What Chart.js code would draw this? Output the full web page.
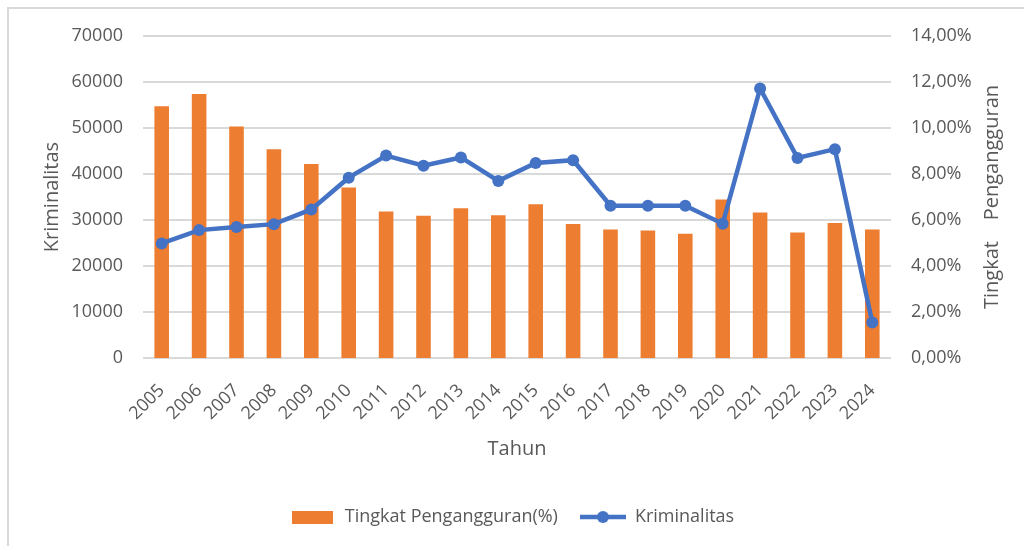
<!DOCTYPE html>
<html>
<head>
<meta charset="utf-8">
<script src="https://cdn.jsdelivr.net/npm/chart.js@4.4.1/dist/chart.umd.min.js"></script>
<style>
  html, body { margin: 0; padding: 0; background: #fff; }
  canvas { display: block; }
</style>
</head>
<body>
<canvas id="chart" width="1024" height="546"></canvas>
<script>
// Data
const years = ['2005', '2006', '2007', '2008', '2009', '2010', '2011', '2012', '2013', '2014',
               '2015', '2016', '2017', '2018', '2019', '2020', '2021', '2022', '2023', '2024'];
// unemployment rate (%), bars, right axis
const pengangguran = [10.95, 11.48, 10.07, 9.08, 8.44, 7.41, 6.37, 6.18, 6.51, 6.21,
                      6.69, 5.83, 5.59, 5.54, 5.40, 6.89, 6.33, 5.46, 5.87, 5.59];
// crime count, line, left axis
const kriminalitas = [24900, 27800, 28500, 29100, 32300, 39200, 44000, 41800, 43600, 38500,
                      42400, 43000, 33100, 33100, 33100, 29200, 58600, 43500, 45400, 7700];

const ORANGE = '#ED7D31';
const BLUE = '#4472C4';
const TEXT = '#595959';
const GRID = '#D9D9D9';
const FONT = "'Open Sans', sans-serif";
const RIGHT_TITLE = 'Tingkat    Pengangguran';

// legend icons
function barIcon() {
    const c = document.createElement('canvas');
    c.width = 41; c.height = 13;
    const g = c.getContext('2d');
    g.fillStyle = ORANGE;
    g.fillRect(0, 0, 41, 13);
    return c;
}

function lineIcon() {
    const c = document.createElement('canvas');
    c.width = 46; c.height = 14;
    const g = c.getContext('2d');
    g.strokeStyle = BLUE;
    g.lineWidth = 4.5;
    g.beginPath();
    g.moveTo(0, 7);
    g.lineTo(46, 7);
    g.stroke();
    g.fillStyle = BLUE;
    g.beginPath();
    g.arc(23, 7, 6, 0, Math.PI * 2);
    g.fill();
    return c;
}

// white background, frame lines at top and left, right axis title read bottom-up
const frame = {
    id: 'frame',
    beforeDraw(chart) {
        const ctx = chart.ctx;
        ctx.save();
        ctx.fillStyle = '#fff';
        ctx.fillRect(0, 0, chart.width, chart.height);
        ctx.strokeStyle = GRID;
        ctx.lineWidth = 2;
        ctx.beginPath();
        ctx.moveTo(8, chart.height);
        ctx.lineTo(8, 8);
        ctx.lineTo(chart.width, 8);
        ctx.stroke();
        ctx.restore();
    },
    afterDraw(chart) {
        const ctx = chart.ctx;
        const area = chart.chartArea;
        ctx.save();
        ctx.translate(992, (area.top + area.bottom) / 2);
        ctx.rotate(-Math.PI / 2);
        ctx.fillStyle = TEXT;
        ctx.font = '20px ' + FONT;
        ctx.textAlign = 'center';
        ctx.textBaseline = 'middle';
        ctx.fillText(RIGHT_TITLE, 0, 0);
        ctx.restore();
    }
};

Chart.defaults.font.family = FONT;
Chart.defaults.color = TEXT;

new Chart(document.getElementById('chart'), {
    type: 'bar',
    data: {
        labels: years,
        datasets: [
            {
                type: 'line',
                label: 'Kriminalitas',
                data: kriminalitas,
                yAxisID: 'y',
                borderColor: BLUE,
                backgroundColor: BLUE,
                borderWidth: 4.5,
                pointRadius: 6,
                pointBackgroundColor: BLUE,
                pointBorderWidth: 0,
                tension: 0,
                order: 0
            },
            {
                type: 'bar',
                label: 'Tingkat Pengangguran(%)',
                data: pengangguran,
                yAxisID: 'y1',
                backgroundColor: ORANGE,
                barPercentage: 0.39,
                categoryPercentage: 1,
                order: 1
            }
        ]
    },
    options: {
        responsive: false,
        animation: false,
        layout: { padding: { top: 36, left: 0, right: 0, bottom: 10 } },
        plugins: {
            tooltip: { enabled: false },
            legend: {
                position: 'bottom',
                labels: {
                    usePointStyle: true,
                    pointStyleWidth: 46,
                    padding: 22,
                    color: TEXT,
                    font: { size: 18, family: FONT },
                    generateLabels: () => [
                        { text: 'Tingkat Pengangguran(%)', pointStyle: barIcon(), fillStyle: ORANGE,
                          strokeStyle: ORANGE, lineWidth: 0, hidden: false, datasetIndex: 1, fontColor: TEXT },
                        { text: 'Kriminalitas', pointStyle: lineIcon(), fillStyle: BLUE,
                          strokeStyle: BLUE, lineWidth: 0, hidden: false, datasetIndex: 0, fontColor: TEXT }
                    ]
                }
            }
        },
        scales: {
            x: {
                offset: true,
                grid: { display: false },
                border: { display: false },
                ticks: {
                    minRotation: 45,
                    maxRotation: 45,
                    padding: 14,
                    color: TEXT,
                    font: { size: 18 }
                },
                title: {
                    display: true,
                    text: 'Tahun',
                    color: TEXT,
                    font: { size: 20 },
                    padding: { top: 0, bottom: 25 }
                },
                afterFit: s => { s.height = 128; }
            },
            y: {
                position: 'left',
                min: 0,
                max: 70000,
                grid: { color: GRID, lineWidth: 2, drawTicks: false },
                border: { display: false },
                ticks: {
                    stepSize: 10000,
                    padding: 20,
                    color: TEXT,
                    font: { size: 18 },
                    callback: v => String(v)
                },
                title: {
                    display: true,
                    text: 'Kriminalitas',
                    color: TEXT,
                    font: { size: 20 },
                    padding: { top: 40, bottom: 0 }
                },
                afterFit: s => { s.width = 143; }
            },
            y1: {
                position: 'right',
                min: 0,
                max: 14,
                grid: { display: false, drawTicks: false },
                border: { display: false },
                ticks: {
                    stepSize: 2,
                    padding: 20,
                    color: TEXT,
                    font: { size: 18 },
                    callback: v => v.toFixed(2).replace('.', ',') + '%'
                },
                afterFit: s => { s.width = 133; }
            }
        }
    },
    plugins: [frame]
});
</script>
</body>
</html>
